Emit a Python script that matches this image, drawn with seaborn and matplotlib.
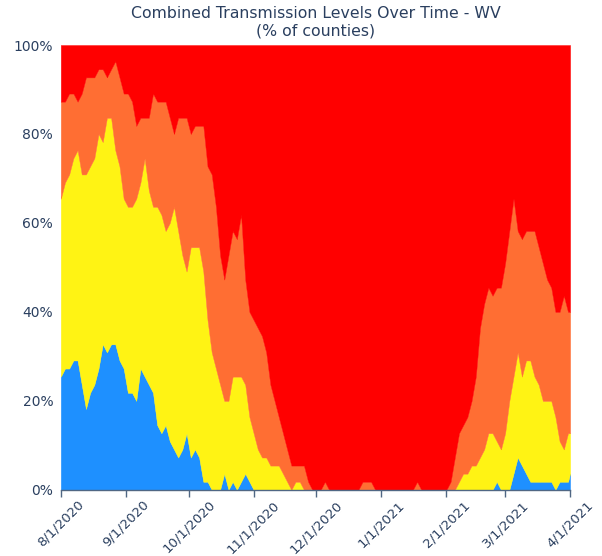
import pandas as pd
import matplotlib
matplotlib.use("Agg")
import matplotlib.pyplot as plt
import seaborn as sns

# Number of WV counties (of 55) at each transmission level,
# read every 2 days from 8/1/2020, plus the last day 4/1/2021
low = [14, 15, 15, 16, 16, 13, 10, 12, 13, 15, 18, 17, 18, 18, 16, 15,      # 8/1 - 8/31
       12, 12, 11, 15, 14, 13, 12, 8, 7, 8, 6, 5, 4, 5, 7,                  # 9/2 - 9/30
       4, 5, 4, 1, 1, 0, 0, 0, 2, 0, 1, 0, 1, 2, 1,                         # 10/2 - 10/30
       0, 0, 0, 0, 0, 0, 0, 0, 0, 0, 0, 0, 0, 0, 0,                         # 11/1 - 11/29
       0, 0, 0, 0, 0, 0, 0, 0, 0, 0, 0, 0, 0, 0, 0, 0,                      # 12/1 - 12/31
       0, 0, 0, 0, 0, 0, 0, 0, 0, 0, 0, 0, 0, 0, 0, 0,                      # 1/2 - 2/1
       0, 0, 0, 0, 0, 0, 0, 0, 0, 0, 0, 1, 0, 0,                            # 2/3 - 3/1
       0, 2, 4, 3, 2, 1, 1, 1, 1, 1, 1, 0, 1, 1, 1,                         # 3/3 - 3/31
       2]                                                                   # 4/1
moderate = [22, 23, 24, 25, 26, 26, 29, 28, 28, 29, 25, 29, 28, 24, 24, 21,
            23, 23, 25, 23, 27, 24, 23, 27, 27, 24, 27, 30, 28, 24, 20,
            26, 25, 26, 26, 20, 17, 15, 13, 9, 11, 13, 14, 13, 11, 8,
            7, 5, 4, 4, 3, 3, 3, 2, 1, 0, 1, 1, 0, 0, 0,
            0, 0, 0, 0, 0, 0, 0, 0, 0, 0, 0, 0, 0, 0, 0, 0,
            0, 0, 0, 0, 0, 0, 0, 0, 0, 0, 0, 0, 0, 0, 0, 0,
            0, 0, 1, 2, 2, 3, 3, 4, 5, 7, 7, 5, 5, 7,
            11, 12, 13, 11, 14, 15, 13, 12, 10, 10, 10, 9, 5, 4, 6,
            5]
substantial = [12, 10, 10, 8, 6, 10, 12, 11, 10, 8, 9, 5, 6, 11, 11, 13,
               14, 13, 9, 8, 5, 9, 14, 13, 14, 16, 13, 9, 14, 17, 19,
               14, 15, 15, 18, 19, 22, 20, 16, 15, 18, 18, 17, 20, 13, 13,
               14, 15, 15, 13, 10, 8, 6, 5, 4, 3, 2, 2, 3, 1, 0,
               0, 0, 1, 0, 0, 0, 0, 0, 0, 0, 0, 1, 1, 1, 0, 0,
               0, 0, 0, 0, 0, 0, 0, 0, 1, 0, 0, 0, 0, 0, 0, 0,
               1, 4, 6, 6, 7, 8, 11, 16, 18, 18, 17, 19, 20, 21,
               21, 22, 15, 17, 16, 16, 18, 17, 17, 15, 14, 13, 16, 19, 15,
               15]
high = [7, 7, 6, 6, 7, 6, 4, 4, 4, 3, 3, 4, 3, 2, 4, 6,
        6, 7, 10, 9, 9, 9, 6, 7, 7, 7, 9, 11, 9, 9, 9,
        11, 10, 10, 10, 15, 16, 20, 26, 29, 26, 23, 24, 21, 29, 33,
        34, 35, 36, 38, 42, 44, 46, 48, 50, 52, 52, 52, 52, 54, 55,
        55, 55, 54, 55, 55, 55, 55, 55, 55, 55, 55, 54, 54, 54, 55, 55,
        55, 55, 55, 55, 55, 55, 55, 55, 54, 55, 55, 55, 55, 55, 55, 55,
        54, 51, 48, 47, 46, 44, 41, 35, 32, 30, 31, 30, 30, 27,
        23, 19, 23, 24, 23, 23, 23, 25, 27, 29, 30, 33, 33, 31, 33,
        33]

levels = ["Low", "Moderate", "Substantial", "High"]
colors = ["#1e90ff", "#fff314", "#ff6e33", "#ff0000"]

tick_dates = ["2020-08-01", "2020-09-01", "2020-10-01", "2020-11-01", "2020-12-01",
              "2021-01-01", "2021-02-01", "2021-03-01", "2021-04-01"]
tick_labels = ["8/1/2020", "9/1/2020", "10/1/2020", "11/1/2020", "12/1/2020",
               "1/1/2021", "2/1/2021", "3/1/2021", "4/1/2021"]

dates = pd.date_range("2020-08-01", "2021-03-31", freq="2D")
dates = dates.append(pd.DatetimeIndex(["2021-04-01"]))

df = pd.DataFrame({"Low": low, "Moderate": moderate,
                   "Substantial": substantial, "High": high}, index=dates)
# share of counties in %
pct = df.div(df.sum(axis=1), axis=0) * 100

sns.set_style("white")
plt.rcParams["font.family"] = ["DejaVu Sans"]
plt.rcParams["patch.force_edgecolor"] = False
text_color = "#2a3f5f"

fig = plt.figure(figsize=(6.02, 5.56), dpi=100)
ax = fig.add_axes([0.101, 0.119, 0.846, 0.800])

ax.stackplot(pct.index, [pct[l] for l in levels], colors=colors, labels=levels,
             edgecolor="face", linewidth=0.3)

ax.set_xlim(pct.index[0], pct.index[-1])
ax.set_ylim(0, 100)
ax.set_yticks([0, 20, 40, 60, 80, 100])
ax.set_yticklabels(["0%", "20%", "40%", "60%", "80%", "100%"])
ax.set_xticks(pd.to_datetime(tick_dates))
ax.set_xticklabels(tick_labels, rotation=45)

ax.tick_params(axis="y", length=0, pad=5.5, labelsize=10, labelcolor=text_color)
ax.tick_params(axis="x", length=5, width=1, color="#506784", pad=1,
               labelsize=9.5, labelcolor=text_color, bottom=True)

sns.despine(ax=ax, left=True)
ax.spines["bottom"].set_color("#506784")
ax.spines["bottom"].set_linewidth(1)

ax.set_title("Combined Transmission Levels Over Time - WV\n(% of counties)",
             fontsize=11.3, color=text_color, pad=7)

fig.savefig("out.png", dpi=100)
